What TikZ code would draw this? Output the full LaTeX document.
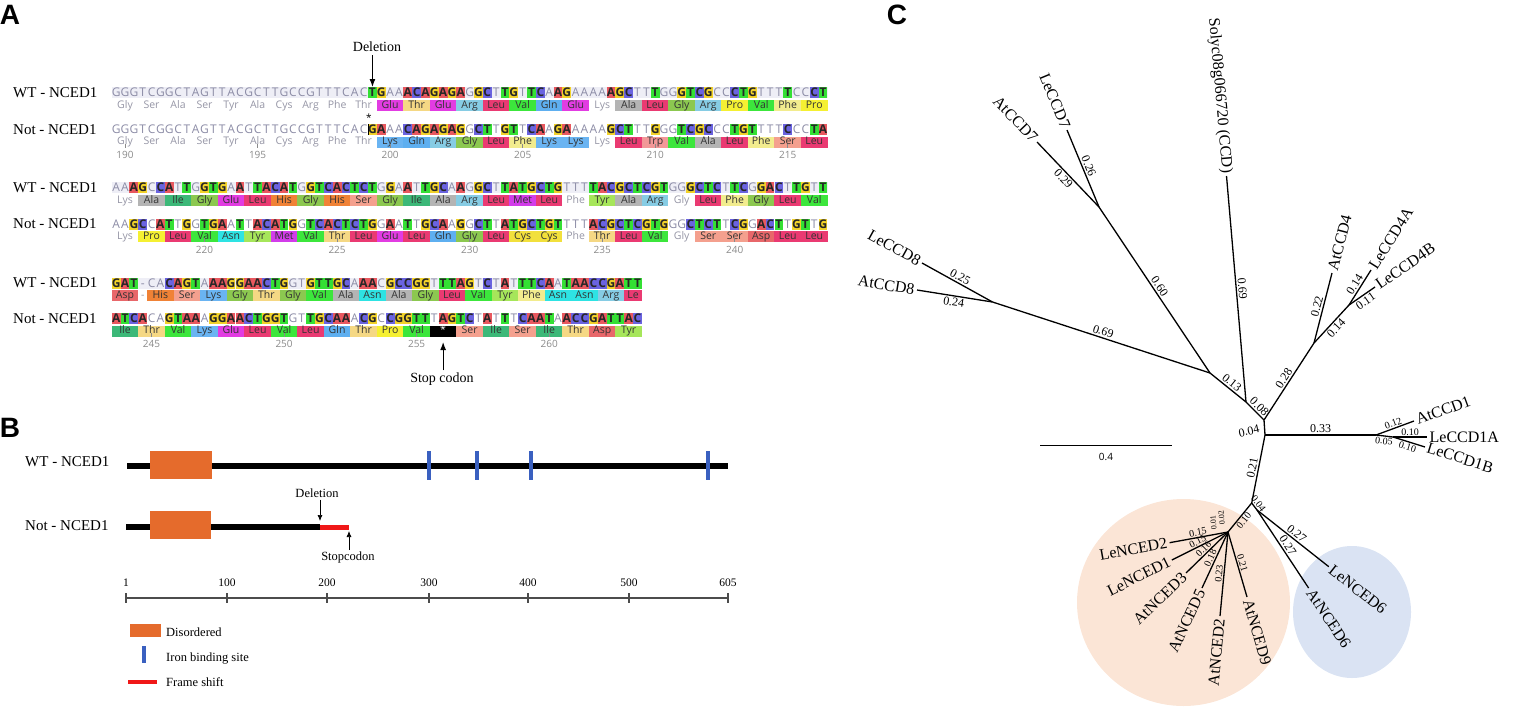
\documentclass[tikz,border=0pt]{standalone}
\usepackage{fontspec}
\setmainfont{Liberation Serif}
\newfontfamily\seqfont{Open Sans}
\newfontfamily\panelfont{Liberation Sans}
\usepackage{xstring}
\usetikzlibrary{arrows.meta}

% nucleotide colours
\definecolor{ntA}{HTML}{E8585F}
\definecolor{ntC}{HTML}{6A63E0}
\definecolor{ntG}{HTML}{F2D22A}
\definecolor{ntT}{HTML}{34E034}
\definecolor{ntgray}{HTML}{8C8CA6}
\definecolor{wtbg}{HTML}{EEEEF6}
% amino acid colours
\definecolor{aagray}{HTML}{9595A5}
\definecolor{numgray}{HTML}{8A8A8A}
\definecolor{aaAla}{HTML}{B4B4B4}
\definecolor{aaArg}{HTML}{86CCE4}
\definecolor{aaAsn}{HTML}{2EE3E3}
\definecolor{aaAsp}{HTML}{E8676A}
\definecolor{aaCys}{HTML}{F2E03C}
\definecolor{aaGln}{HTML}{5EAFF0}
\definecolor{aaGlu}{HTML}{E23CE2}
\definecolor{aaGly}{HTML}{8CC850}
\definecolor{aaHis}{HTML}{F08236}
\definecolor{aaIle}{HTML}{3CB878}
\definecolor{aaLeu}{HTML}{EA3A72}
\definecolor{aaLys}{HTML}{6AB4F2}
\definecolor{aaMet}{HTML}{D23CEA}
\definecolor{aaPhe}{HTML}{F2EC8E}
\definecolor{aaPro}{HTML}{F5F032}
\definecolor{aaSer}{HTML}{F4A08E}
\definecolor{aaThr}{HTML}{F5D884}
\definecolor{aaTrp}{HTML}{F29898}
\definecolor{aaTyr}{HTML}{A6E65A}
\definecolor{aaVal}{HTML}{3CE63C}
% domain and tree colours
\definecolor{discol}{HTML}{E56B2C}
\definecolor{ironcol}{HTML}{3A60C0}
\definecolor{fscol}{HTML}{F01818}
\definecolor{ncedbg}{HTML}{FBE5D6}
\definecolor{nsixbg}{HTML}{DAE3F3}

% sequences
\def\seqWTa{GGGTCGGCTAGTTACGCTTGCCGTTTCACTGAAACAGAGAGGCTTGTTCAAGAAAAAGCTTTGGGTCGCCCTGTTTTCCCT}
\def\seqMUa{GGGTCGGCTAGTTACGCTTGCCGTTTCACGAAACAGAGAGGCTTGTTCAAGAAAAAGCTTTGGGTCGCCCTGTTTTCCCTA}
\def\seqWTb{AAAGCCATTGGTGAATTACATGGTCACTCTGGAATTGCAAGGCTTATGCTGTTTTACGCTCGTGGGCTCTTCGGACTTGTT}
\def\seqMUb{AAGCCATTGGTGAATTACATGGTCACTCTGGAATTGCAAGGCTTATGCTGTTTTACGCTCGTGGGCTCTTCGGACTTGTTG}
\def\seqWTc{GAT-CACAGTAAAGGAACTGGTGTTGCAAACGCCGGTTTAGTCTATTTCAATAACCGATT}
\def\seqMUc{ATCACAGTAAAGGAACTGGTGTTGCAAACGCCGGTTTAGTCTATTTCAATAACCGATTAC}

\def\cw{8.836}   % column width
\def\xz{107.364} % x of column 0
\newcount\aacol

\tikzset{
  panel/.style={font=\panelfont\bfseries\fontsize{28}{28}\selectfont, inner sep=0pt},
  rowlab/.style={font=\fontsize{15}{15}\selectfont, anchor=west, inner sep=0pt},
  ntplain/.style={font=\seqfont\fontsize{12}{12}\selectfont, text=ntgray, inner sep=0pt,
    minimum width=8.8pt, minimum height=11pt, text height=8.6pt, text depth=0pt},
  nthl/.style={ntplain, font=\seqfont\bfseries\fontsize{12}{12}\selectfont, text=black!85},
  aaplain/.style={font=\seqfont\fontsize{10.5}{10.5}\selectfont, text=aagray, inner sep=0pt,
    minimum width=26.5pt, minimum height=11pt, text height=8pt, text depth=2.3pt},
  aabox/.style={aaplain, text=black!80},
  numlab/.style={font=\seqfont\fontsize{10}{10}\selectfont, text=numgray, inner sep=0pt},
  numtick/.style={draw=numgray, line width=0.8pt},
  note/.style={font=\fontsize{14}{14}\selectfont, inner sep=0pt},
  arr/.style={line width=1.2pt, -{Latex[length=8pt,width=6pt]}},
  protline/.style={line width=5.5pt},
  disbox/.style={fill=discol},
  ironbar/.style={line width=4.5pt, draw=ironcol},
  fshift/.style={line width=5pt, draw=fscol},
  blab/.style={font=\fontsize{12.5}{12.5}\selectfont, inner sep=0pt},
  axisline/.style={line width=1.3pt, draw=black!70},
  axlab/.style={font=\fontsize{11.5}{11.5}\selectfont, inner sep=0pt},
  barr/.style={line width=0.7pt, -{Latex[length=6pt,width=5pt]}},
  branch/.style={line width=1.3pt},
  blen/.style={font=\fontsize{12}{12}\selectfont, inner sep=1.5pt, sloped, midway},
  blensm/.style={blen, font=\fontsize{10}{10}\selectfont, inner sep=1pt},
  tiplab/.style={font=\fontsize{16}{16}\selectfont, inner sep=2pt, sloped, pos=1},
}

% one line of bases, coloured where the two sequences differ
\newcommand{\ntrow}[4]{%
  \StrLen{#2}[\ntlen]%
  \foreach \ni in {1,...,\ntlen}{%
    \StrChar{#2}{\ni}[\ca]%
    \StrChar{#3}{\ni}[\cb]%
    \ifx\ca\cb
      \node[ntplain] (#4\ni) at (\xz+\ni*\cw,#1) {\ca};
    \else\if-\ca
      \node[ntplain] (#4\ni) at (\xz+\ni*\cw,#1) {\ca};
    \else
      \node[nthl,fill=nt\ca] (#4\ni) at (\xz+\ni*\cw,#1) {\ca};
    \fi\fi
  }}

% one line of amino acids: 0 plain, 1 coloured, 2 gap, 3 cut, 4 stop
\newcommand{\aarow}[3]{%
  \global\aacol=0
  \foreach \amino/\kind [count=\ai] in {#3}{%
    \ifcase\kind
      \node[aaplain] (#2\ai) at (\xz+\the\aacol*\cw+2*\cw,#1) {\amino};
      \global\advance\aacol by 3
    \or
      \node[aabox,fill=aa\amino] (#2\ai) at (\xz+\the\aacol*\cw+2*\cw,#1) {\amino};
      \global\advance\aacol by 3
    \or
      \node[aaplain,minimum width=8.8pt] (#2\ai) at (\xz+\the\aacol*\cw+\cw,#1) {\amino};
      \global\advance\aacol by 1
    \or
      \node[aabox,fill=aaLeu,minimum width=17.6pt] (#2\ai) at (\xz+\the\aacol*\cw+1.5*\cw,#1) {\amino};
      \global\advance\aacol by 2
    \or
      \node[aabox,fill=black,text=white] (#2\ai) at (\xz+\the\aacol*\cw+2*\cw,#1) {*};
      \global\advance\aacol by 3
    \fi
  }}

\begin{document}
\begin{tikzpicture}[x=1pt,y=-1pt]
\useasboundingbox (0,0) rectangle (1536,723);

% Panel letters
\node[panel] (pA) at (10,15) {A};
\node[panel] (pB) at (10,428) {B};
\node[panel] (pC) at (897,15) {C};

% WT base lines sit on a light band
\fill[wtbg] (\xz+0.5*\cw,87) rectangle (\xz+81.5*\cw,98);
\fill[wtbg] (\xz+0.5*\cw,182) rectangle (\xz+81.5*\cw,193);
\fill[wtbg] (\xz+0.5*\cw,277.5) rectangle (\xz+60.5*\cw,288.5);

% Block 1
\node[rowlab] (lwa) at (13,92.5) {WT - NCED1};
\node[rowlab] (lma) at (13,129.5) {Not - NCED1};
\ntrow{92.5}{\seqWTa}{\seqMUa}{wa}
\ntrow{129.5}{\seqMUa}{\seqWTa}{ma}
\aarow{105.5}{pwa}{Gly/0,Ser/0,Ala/0,Ser/0,Tyr/0,Ala/0,Cys/0,Arg/0,Phe/0,Thr/0,Glu/1,Thr/1,Glu/1,Arg/1,Leu/1,Val/1,Gln/1,Glu/1,Lys/0,Ala/1,Leu/1,Gly/1,Arg/1,Pro/1,Val/1,Phe/1,Pro/1}
\aarow{142}{pma}{Gly/0,Ser/0,Ala/0,Ser/0,Tyr/0,Ala/0,Cys/0,Arg/0,Phe/0,Thr/0,Lys/1,Gln/1,Arg/1,Gly/1,Leu/1,Phe/1,Lys/1,Lys/1,Lys/0,Leu/1,Trp/1,Val/1,Ala/1,Leu/1,Phe/1,Ser/1,Leu/1}
\foreach \num [count=\j from 0] in {190,195,200,205,210,215}{
  \node[numlab] (na\num) at (\xz+2*\cw+15*\j*\cw,155) {\num};
  \draw[numtick] (\xz+2*\cw+15*\j*\cw,147.5) -- ++(0,-4);
}

% Block 2
\node[rowlab] (lwb) at (13,187.5) {WT - NCED1};
\node[rowlab] (lmb) at (13,224) {Not - NCED1};
\ntrow{187.5}{\seqWTb}{\seqMUb}{wb}
\ntrow{224}{\seqMUb}{\seqWTb}{mb}
\aarow{200.5}{pwb}{Lys/0,Ala/1,Ile/1,Gly/1,Glu/1,Leu/1,His/1,Gly/1,His/1,Ser/1,Gly/1,Ile/1,Ala/1,Arg/1,Leu/1,Met/1,Leu/1,Phe/0,Tyr/1,Ala/1,Arg/1,Gly/0,Leu/1,Phe/1,Gly/1,Leu/1,Val/1}
\aarow{236.5}{pmb}{Lys/0,Pro/1,Leu/1,Val/1,Asn/1,Tyr/1,Met/1,Val/1,Thr/1,Leu/1,Glu/1,Leu/1,Gln/1,Gly/1,Leu/1,Cys/1,Cys/1,Phe/0,Thr/1,Leu/1,Val/1,Gly/0,Ser/1,Ser/1,Asp/1,Leu/1,Leu/1}
\foreach \num [count=\j from 0] in {220,225,230,235,240}{
  \node[numlab] (nb\num) at (\xz+11*\cw+15*\j*\cw,250) {\num};
  \draw[numtick] (\xz+11*\cw+15*\j*\cw,242) -- ++(0,-4);
}

% Block 3
\node[rowlab] (lwc) at (13,283) {WT - NCED1};
\node[rowlab] (lmc) at (13,318.5) {Not - NCED1};
\ntrow{283}{\seqWTc}{\seqMUc}{wc}
\ntrow{318.5}{\seqMUc}{\seqWTc}{mc}
\aarow{295.5}{pwc}{Asp/1,-/2,His/1,Ser/1,Lys/1,Gly/1,Thr/1,Gly/1,Val/1,Ala/1,Asn/1,Ala/1,Gly/1,Leu/1,Val/1,Tyr/1,Phe/1,Asn/1,Asn/1,Arg/1,Le/3}
\aarow{331}{pmc}{Ile/1,Thr/1,Val/1,Lys/1,Glu/1,Leu/1,Val/1,Leu/1,Gln/1,Thr/1,Pro/1,Val/1,Stp/4,Ser/1,Ile/1,Ser/1,Ile/1,Thr/1,Asp/1,Tyr/1}
\foreach \num [count=\j from 0] in {245,250,255,260}{
  \node[numlab] (nc\num) at (\xz+5*\cw+15*\j*\cw,344) {\num};
  \draw[numtick] (\xz+5*\cw+15*\j*\cw,336.5) -- ++(0,-4);
}

% Deletion and stop codon marks
\node[note] (delA) at (377,47) {Deletion};
\coordinate (delAtip) at (\xz+30*\cw,87);
\draw[arr] ([yshift=-3pt]delA.south -| delAtip) -- (delAtip);
\draw[line width=1pt] (\xz+29.5*\cw,124) -- (\xz+29.5*\cw,135);
\node[font=\seqfont\fontsize{10}{10}\selectfont, inner sep=0pt] (astA) at (\xz+29.6*\cw,118) {*};
\node[note] (stopA) at (442,379) {Stop codon};
\coordinate (stopAtip) at (\xz+38*\cw,342);
\draw[arr] ([yshift=2pt]stopA.north -| stopAtip) -- (stopAtip);

% ---- B: protein maps ----
\node[rowlab] (lwB) at (25,462) {WT - NCED1};
\node[rowlab] (lmB) at (25,526) {Not - NCED1};
\draw[protline] (127,466) -- (728,466);
\draw[protline] (126,527) -- (320,527);
\draw[fshift] (320,527) -- (349,527);
\fill[disbox] (150,451) rectangle (212,479);
\fill[disbox] (150,511) rectangle (211,539);
\foreach \xi in {429,477,531,708}
  \draw[ironbar] (\xi,451) -- (\xi,480);

\node[blab] (delB) at (317,493) {Deletion};
\coordinate (delBtip) at (320,521);
\draw[barr] ([yshift=-2pt]delB.south -| delBtip) -- (delBtip);
\node[blab] (stopB) at (348,557) {Stopcodon};
\coordinate (stopBtip) at (349,531);
\draw[barr] ([yshift=1pt]stopB.north -| stopBtip) -- (stopBtip);

% Residue axis
\draw[axisline] (126,598) -- (728,598);
\foreach \xt/\lab in {126/1,227/100,327/200,429/300,528/400,629/500,728/605}{
  \draw[axisline] (\xt,593) -- (\xt,603);
  \node[axlab] (t\lab) at (\xt,583) {\lab};
}

% Legend
\fill[disbox] (130,624) rectangle (161,637);
\node[blab, anchor=west] (kdis) at (166,632) {Disordered};
\draw[ironbar] (144,646) -- (144,663);
\node[blab, anchor=west] (kiron) at (166,659) {Iron binding site};
\draw[line width=4pt, draw=fscol] (128,682) -- (157,682);
\node[blab, anchor=west] (kfs) at (166,682) {Frame shift};

% ---- C: unrooted tree ----
\fill[ncedbg] (1183.5,602.5) ellipse [x radius=106.5, y radius=103.5];
\fill[nsixbg] (1352,612) ellipse [x radius=59, y radius=66];

% inner nodes
\coordinate (nA) at (1210,373);
\coordinate (nB) at (1246,402);
\coordinate (nC) at (1264,420);
\coordinate (nD) at (1265,435);
\coordinate (nE) at (1251.7,503);
\coordinate (nG) at (1257,510);
\coordinate (nH) at (1228,532);
\coordinate (n7) at (1099,207);
\coordinate (n8) at (992.5,302);
\coordinate (n4) at (1314,343);
\coordinate (n4ab) at (1349,305);
\coordinate (n1) at (1376,435);
\coordinate (n1ab) at (1393,437);
% leaves
\coordinate (tSol) at (1226.5,176);
\coordinate (tLe7) at (1067,130);
\coordinate (tAt7) at (1037,142);
\coordinate (tLe8) at (922,263);
\coordinate (tAt8) at (917,290);
\coordinate (tAt4) at (1332,273);
\coordinate (tLe4a) at (1371,270);
\coordinate (tLe4b) at (1375,287);
\coordinate (tAt1) at (1414,421);
\coordinate (tLe1a) at (1427,437);
\coordinate (tLe1b) at (1425,447);
\coordinate (tLeN6) at (1328.8,566.7);
\coordinate (tAtN6) at (1308.6,588);
\coordinate (tLeN2) at (1169.6,542.7);
\coordinate (tLeN1) at (1171.8,560);
\coordinate (tAtN3) at (1186,573);
\coordinate (tAtN5) at (1202,588);
\coordinate (tAtN2) at (1220,616);
\coordinate (tAtN9) at (1247,597);

\draw[branch] (nC) -- (nD);
\node[font=\fontsize{12}{12}\selectfont, inner sep=0pt, rotate=12] (l004) at (1249,431) {0.04};
\draw[branch] (nC) -- (nB) node[blen, above] {0.08};
\draw[branch] (nB) -- (nA) node[blen, above] {0.13};
\draw[branch] (nB) -- (tSol) node[blen, above] {0.69} node[tiplab, anchor=east] (lSol) {Solyc08g066720 (CCD)};
\draw[branch] (nA) -- (n7) node[blen, above] {0.60};
\draw[branch] (n7) -- (tLe7) node[blen, above] {0.26} node[tiplab, anchor=east] (lLe7) {LeCCD7};
\draw[branch] (n7) -- (tAt7) node[blen, below] {0.29} node[tiplab, anchor=east] (lAt7) {AtCCD7};
\draw[branch] (nA) -- (n8) node[blen, above] {0.69};
\draw[branch] (n8) -- (tLe8) node[blen, above] {0.25} node[tiplab, anchor=east] (lLe8) {LeCCD8};
\draw[branch] (n8) -- (tAt8) node[blen, below] {0.24} node[tiplab, anchor=east] (lAt8) {AtCCD8};
\draw[branch] (nC) -- (n4) node[blen, above] {0.28};
\draw[branch] (n4) -- (tAt4) node[blen, above] {0.22} node[tiplab, anchor=west] (lAt4) {AtCCD4};
\draw[branch] (n4) -- (n4ab) node[blen, below] {0.14};
\draw[branch] (n4ab) -- (tLe4a) node[blen, above] {0.14} node[tiplab, anchor=west] (lLe4a) {LeCCD4A};
\draw[branch] (n4ab) -- (tLe4b) node[blen, below] {0.11} node[tiplab, anchor=west] (lLe4b) {LeCCD4B};
\draw[branch] (nD) -- (n1) node[blen, above] {0.33};
\draw[branch] (n1) -- (tAt1) node[blensm, above] {0.12} node[tiplab, anchor=west] (lAt1) {AtCCD1};
\draw[branch] (n1) -- (n1ab) node[blensm, below] {0.05};
\draw[branch] (n1ab) -- (tLe1a) node[blensm, above] {0.10} node[tiplab, anchor=west] (lLe1a) {LeCCD1A};
\draw[branch] (n1ab) -- (tLe1b) node[blensm, below] {0.10} node[tiplab, anchor=west] (lLe1b) {LeCCD1B};
\draw[branch] (nD) -- (nE) node[blen, above] {0.21};
\draw[branch] (nE) -- (nG) node[blensm, above] {0.04};
\draw[branch] (nG) -- (tLeN6) node[blen, above] {0.27} node[tiplab, anchor=west] (lLeN6) {LeNCED6};
\draw[branch] (nG) -- (tAtN6) node[blen, above] {0.27} node[tiplab, anchor=west] (lAtN6) {AtNCED6};
\draw[branch] (nE) -- (nH) node[blensm, below] {0.10};
\draw[branch] (nH) -- (tLeN2) node[blensm, above] {0.15} node[tiplab, anchor=east] (lLeN2) {LeNCED2};
\draw[branch] (nH) -- (tLeN1) node[blensm, above] {0.15} node[tiplab, anchor=east] (lLeN1) {LeNCED1};
\draw[branch] (nH) -- (tAtN3) node[blensm, above] {0.16} node[tiplab, anchor=east] (lAtN3) {AtNCED3};
\draw[branch] (nH) -- (tAtN5) node[blensm, above] {0.18} node[tiplab, anchor=east] (lAtN5) {AtNCED5};
\draw[branch] (nH) -- (tAtN2) node[blensm, above] {0.23} node[tiplab, anchor=east] (lAtN2) {AtNCED2};
\draw[branch] (nH) -- (tAtN9) node[blensm, above] {0.21} node[tiplab, anchor=west] (lAtN9) {AtNCED9};
\node[font=\fontsize{8}{8}\selectfont, inner sep=0pt, rotate=95] (l002) at (1221.6,518) {0.02};
\node[font=\fontsize{8}{8}\selectfont, inner sep=0pt, rotate=95] (l001) at (1213.5,523) {0.01};

% Scale bar
\draw[line width=1pt] (1040,445) -- (1172,445);
\node[font=\seqfont\fontsize{10}{10}\selectfont, inner sep=0pt] (sbar) at (1106,457) {0.4};

\end{tikzpicture}
\end{document}
